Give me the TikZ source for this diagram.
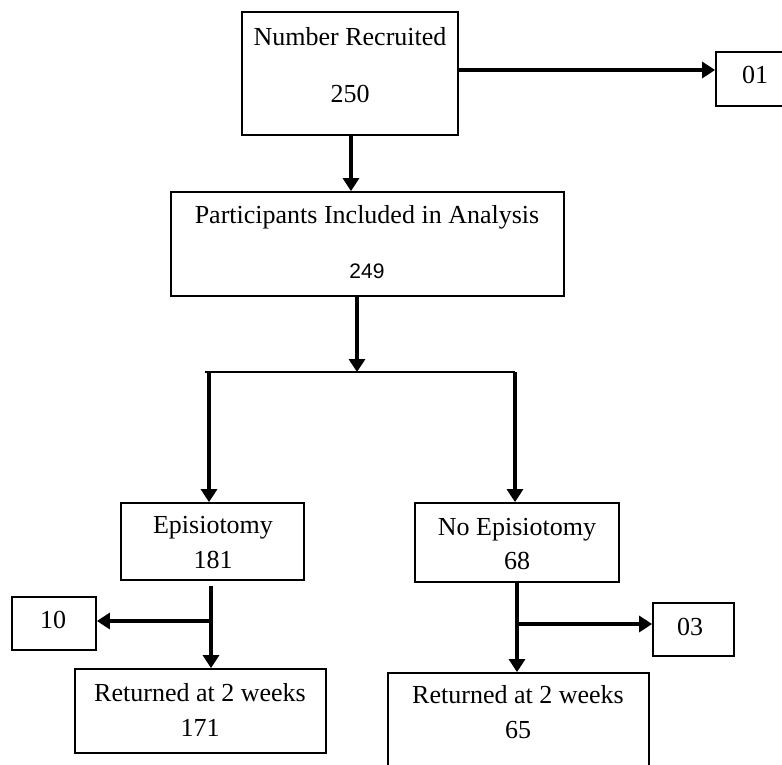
\documentclass[tikz,border=0pt]{standalone}
\usepackage{fontspec}
\setmainfont{Liberation Serif}
\newfontfamily\arialfont{Liberation Sans}
\usetikzlibrary{arrows.meta,calc}
\begin{document}
\begin{tikzpicture}[x=1pt,y=-1pt,
 box/.style={draw,line width=1.8pt,rectangle,inner sep=0pt},
 lbl/.style={font=\fontsize{26}{30}\selectfont,inner sep=0pt,anchor=base},
 sans/.style={font=\arialfont\fontsize{21}{25}\selectfont,inner sep=0pt,anchor=base},
 arr/.style={line width=3.6pt,-{Triangle[length=13pt,width=16pt]}},
 thinline/.style={line width=1.5pt}]
\useasboundingbox (0,0) rectangle (782,764);
\begin{scope}
\clip (0,0) rectangle (782,764);
% boxes
\node[box,minimum width=216pt,minimum height=123pt] (nr) at (350,73.5) {};
\node[box,minimum width=100pt,minimum height=54pt] (o1) at (766,79) {};
\node[box,minimum width=393pt,minimum height=104pt] (pa) at (367.5,244) {};
\node[box,minimum width=183pt,minimum height=77pt] (ep) at (212.5,541.5) {};
\node[box,minimum width=204pt,minimum height=79pt] (ne) at (517,542.5) {};
\node[box,minimum width=84pt,minimum height=53pt] (b10) at (54,623.5) {};
\node[box,minimum width=81pt,minimum height=53pt] (b03) at (693.5,629.5) {};
\node[box,minimum width=251pt,minimum height=84pt] (r1) at (200.5,711) {};
\node[box,minimum width=261pt,minimum height=130pt] (r2) at (518.5,738) {};
% labels
\node[lbl] (t1) at (350,45) {Number Recruited};
\node[lbl] (t2) at (350,102) {250};
\node[lbl] (t3) at (755,83) {01};
\node[lbl] (t4) at (367,223) {Participants Included in Analysis};
\node[sans] (t5) at (367,278) {249};
\node[lbl] (t6) at (213,533) {Episiotomy};
\node[lbl] (t7) at (213,568) {181};
\node[lbl] (t8) at (517,535) {No Episiotomy};
\node[lbl] (t9) at (517,569) {68};
\node[lbl] (t10) at (53,628) {10};
\node[lbl] (t11) at (690,635) {03};
\node[lbl] (t12) at (200,701) {Returned at 2 weeks};
\node[lbl] (t13) at (200,736) {171};
\node[lbl] (t14) at (518,703) {Returned at 2 weeks};
\node[lbl] (t15) at (518,738) {65};
% connectors
\draw[arr] (nr.east |- 0,70) -- (o1.west |- 0,70);
\draw[arr] (nr.south -| 351,0) -- (pa.north -| 351,0);
\coordinate (jc) at (357,372);
\coordinate (jl) at (205,372);
\coordinate (jr) at (515,372);
\draw[arr] (pa.south -| jc) -- (jc);
\draw[thinline] (jl) -- (jr);
\draw[arr] (209,372) -- (ep.north -| 209,0);
\draw[arr] (jr) -- (ne.north -| jr);
\coordinate (ea) at (211,586);
\coordinate (eb) at (211,621);
\draw[arr] (ea) -- (r1.north -| ea);
\draw[arr] (eb) -- (b10.east |- eb);
\coordinate (na) at (517,624);
\draw[arr] (ne.south -| na) -- (r2.north -| na);
\draw[arr] (na) -- (b03.west |- na);
\end{scope}
\end{tikzpicture}
\end{document}
